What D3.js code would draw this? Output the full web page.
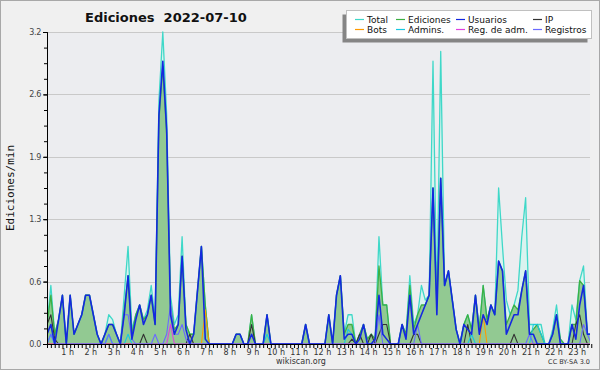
<!DOCTYPE html>
<html>
<head>
<meta charset="utf-8">
<script src="https://cdn.jsdelivr.net/npm/d3@7/dist/d3.min.js"></script>
<style>
    body { margin: 0; background: #fff; }
    svg { display: block; font-family: "DejaVu Sans", sans-serif; }
</style>
</head>
<body>
<svg id="chart"></svg>
<script>
// values per 10 minutes, 00:00 -> 23:30 (ediciones / min)
var total = [0.2, 0.6, 0.1, 0.25, 0.5, 0, 0.5, 0.1, 0.2, 0.3, 0.5, 0.5, 0.3, 0.1, 0, 0.1, 0.3, 0.25, 0.1, 0,
    0.5, 1.0, 0.15, 0.3, 0.4, 0.25, 0.35, 0.6, 0.25, 2.5, 3.2, 2.35, 0.5, 0.2, 0.3, 1.1, 0.2, 0.1, 0.1, 0.55,
    1.0, 0.4, 0, 0, 0, 0, 0, 0, 0, 0.1, 0.1, 0, 0, 0.3, 0, 0, 0, 0.3, 0, 0,
    0, 0, 0, 0, 0, 0, 0, 0.2, 0, 0, 0, 0, 0, 0.3, 0, 0.5, 0.7, 0.1, 0.3, 0.3,
    0, 0.1, 0.2, 0.05, 0.1, 0.05, 1.1, 0.4, 0.4, 0, 0, 0, 0.2, 0.1, 0.7, 0.2, 0.3, 0.6, 0.45, 0.5,
    2.9, 0.4, 3.0, 0.6, 0.75, 0.45, 0.15, 0, 0.2, 0.3, 0.15, 0.5, 0.15, 0.6, 0.25, 0.4, 0.3, 1.6, 1.0, 0.45,
    0.3, 0.4, 0.55, 1.1, 1.5, 0.2, 0.2, 0.2, 0.2, 0, 0, 0.15, 0.4, 0.05, 0, 0, 0.4, 0.25, 0.65, 0.8,
    0.1, 0.1];
var ediciones = [0.2, 0.5, 0.1, 0.25, 0.5, 0, 0.5, 0.1, 0.2, 0.3, 0.5, 0.5, 0.3, 0.1, 0, 0.1, 0.2, 0.2, 0.1, 0,
    0.35, 0.7, 0.1, 0.3, 0.4, 0.25, 0.3, 0.5, 0.2, 2.3, 2.85, 2.15, 0.4, 0.15, 0.2, 0.9, 0.2, 0.1, 0.1, 0.55,
    1.0, 0.4, 0, 0, 0, 0, 0, 0, 0, 0.1, 0.1, 0, 0, 0.3, 0, 0, 0, 0.3, 0, 0,
    0, 0, 0, 0, 0, 0, 0, 0.2, 0, 0, 0, 0, 0, 0.3, 0, 0.5, 0.7, 0.1, 0.2, 0.2,
    0, 0.1, 0.2, 0.05, 0.1, 0.05, 0.8, 0.4, 0.4, 0, 0, 0, 0.2, 0.1, 0.6, 0.15, 0.3, 0.4, 0.4, 0.5,
    1.6, 0.4, 1.7, 0.6, 0.75, 0.45, 0.15, 0, 0.2, 0.3, 0.15, 0.5, 0.15, 0.6, 0.25, 0.4, 0.3, 0.85, 0.75, 0.2,
    0.3, 0.4, 0.35, 0.55, 0.75, 0.1, 0.15, 0.2, 0.1, 0, 0, 0.1, 0.3, 0.05, 0, 0, 0.2, 0.2, 0.65, 0.6,
    0.1, 0.1];
var usuarios = [0.1, 0.2, 0, 0.25, 0.5, 0, 0.5, 0.1, 0.2, 0.3, 0.5, 0.5, 0.3, 0.1, 0, 0.1, 0.2, 0.2, 0.1, 0,
    0.3, 0.7, 0.05, 0.25, 0.4, 0.2, 0.3, 0.5, 0.2, 2.35, 2.9, 2.2, 0.3, 0.1, 0.2, 0.9, 0.15, 0, 0.1, 0.55,
    1.0, 0.05, 0, 0, 0, 0, 0, 0, 0, 0.1, 0.1, 0, 0, 0.1, 0, 0, 0, 0.3, 0, 0,
    0, 0, 0, 0, 0, 0, 0, 0.2, 0, 0, 0, 0, 0, 0.3, 0, 0.5, 0.7, 0.05, 0.1, 0.1,
    0, 0.05, 0.2, 0, 0, 0.05, 0.5, 0.1, 0.05, 0, 0, 0, 0.2, 0.05, 0.5, 0.1, 0.2, 0.3, 0.4, 0.5,
    1.6, 0.3, 1.7, 0.6, 0.75, 0.45, 0.15, 0, 0.2, 0.15, 0.1, 0.5, 0.1, 0.3, 0.2, 0.4, 0.3, 0.85, 0.75, 0.1,
    0.2, 0.3, 0.3, 0.55, 0.75, 0.1, 0.1, 0, 0, 0, 0, 0.1, 0.3, 0, 0, 0, 0.2, 0.05, 0.4, 0.6,
    0.1, 0.1];
var ip = [0.2, 0.3, 0.05, 0, 0, 0, 0, 0, 0, 0, 0, 0, 0, 0, 0, 0, 0, 0, 0, 0,
    0, 0, 0, 0, 0, 0.1, 0, 0, 0, 0, 0, 0, 0, 0, 0, 0, 0, 0.1, 0, 0,
    0, 0, 0, 0, 0, 0, 0, 0, 0, 0, 0, 0, 0, 0.2, 0, 0, 0, 0, 0, 0,
    0, 0, 0, 0, 0, 0, 0, 0, 0, 0, 0, 0, 0, 0, 0, 0, 0, 0, 0, 0.05,
    0, 0.1, 0, 0, 0.1, 0, 0.1, 0.2, 0.2, 0, 0, 0, 0, 0, 0, 0.1, 0.1, 0, 0, 0,
    0, 0, 0, 0, 0, 0, 0, 0, 0, 0.2, 0, 0, 0, 0, 0, 0, 0, 0, 0, 0,
    0, 0.1, 0, 0, 0, 0, 0, 0, 0, 0, 0, 0, 0, 0, 0, 0, 0, 0.2, 0.3, 0.1,
    0, 0];
var bots = [0, 0, 0, 0, 0, 0, 0, 0, 0, 0, 0, 0, 0, 0, 0, 0, 0, 0, 0, 0,
    0, 0, 0, 0, 0, 0, 0, 0, 0, 0, 0, 0, 0, 0, 0, 0, 0, 0, 0, 0,
    0, 0.35, 0, 0, 0, 0, 0, 0, 0, 0, 0, 0, 0, 0, 0, 0, 0, 0, 0, 0,
    0, 0, 0, 0, 0, 0, 0, 0, 0, 0, 0, 0, 0, 0, 0, 0, 0, 0, 0, 0,
    0, 0, 0, 0, 0, 0, 0, 0, 0, 0, 0, 0, 0, 0, 0, 0, 0, 0, 0, 0,
    0, 0, 0, 0, 0, 0, 0, 0, 0, 0, 0, 0, 0, 0.3, 0, 0, 0, 0, 0, 0,
    0, 0, 0, 0, 0, 0, 0, 0, 0, 0, 0, 0, 0, 0, 0, 0, 0, 0, 0, 0,
    0, 0];
var admins = [0, 0.1, 0, 0, 0, 0, 0, 0, 0, 0, 0, 0, 0, 0, 0, 0, 0.1, 0, 0, 0,
    0, 0.1, 0, 0, 0, 0, 0, 0, 0, 0, 0, 0, 0, 0, 0, 0, 0, 0, 0, 0,
    0, 0, 0, 0, 0, 0, 0, 0, 0, 0, 0, 0, 0, 0, 0, 0, 0, 0.1, 0, 0,
    0, 0, 0, 0, 0, 0, 0, 0, 0, 0, 0, 0, 0, 0, 0, 0, 0, 0, 0.15, 0.1,
    0, 0, 0, 0, 0, 0, 0, 0, 0, 0, 0, 0, 0, 0, 0, 0, 0, 0, 0, 0,
    0, 0, 0, 0, 0, 0, 0, 0, 0, 0, 0.1, 0, 0, 0, 0, 0, 0, 0, 0, 0,
    0, 0, 0, 0, 0, 0, 0.2, 0.2, 0.1, 0, 0, 0, 0, 0, 0, 0, 0, 0, 0, 0,
    0, 0];
var regAdm = [0, 0, 0, 0, 0, 0, 0, 0, 0, 0, 0, 0, 0, 0, 0, 0, 0, 0, 0, 0,
    0, 0, 0, 0, 0, 0, 0, 0, 0, 0, 0, 0, 0.2, 0, 0, 0, 0, 0, 0, 0,
    0, 0, 0, 0, 0, 0, 0, 0, 0, 0, 0, 0, 0, 0, 0, 0, 0, 0, 0, 0,
    0, 0, 0, 0, 0, 0, 0, 0, 0, 0, 0, 0, 0, 0, 0, 0, 0, 0, 0, 0,
    0, 0, 0, 0, 0, 0, 0, 0, 0, 0, 0, 0, 0, 0, 0, 0, 0, 0, 0, 0,
    0, 0, 0, 0, 0, 0, 0, 0, 0, 0, 0, 0, 0, 0, 0, 0, 0, 0, 0, 0,
    0, 0, 0, 0, 0, 0, 0, 0, 0, 0, 0, 0, 0, 0, 0, 0, 0, 0, 0, 0,
    0, 0];
var registros = [0, 0.1, 0, 0, 0, 0, 0, 0, 0, 0, 0, 0, 0, 0, 0, 0, 0.1, 0, 0, 0,
    0.3, 0.3, 0.05, 0, 0, 0, 0, 0, 0.1, 0, 0, 0.1, 0.4, 0.1, 0.1, 0.2, 0.05, 0, 0, 0,
    0, 0, 0, 0, 0, 0, 0, 0, 0, 0, 0, 0, 0, 0, 0, 0, 0, 0, 0, 0,
    0, 0, 0, 0, 0, 0, 0, 0, 0, 0, 0, 0, 0, 0, 0, 0, 0, 0, 0, 0,
    0, 0, 0, 0, 0, 0, 0.3, 0, 0, 0, 0, 0, 0, 0, 0, 0, 0.2, 0, 0, 0,
    0, 0, 0, 0, 0, 0, 0, 0, 0, 0, 0, 0, 0, 0, 0, 0, 0, 0, 0, 0,
    0, 0, 0, 0, 0, 0.1, 0, 0, 0, 0, 0, 0, 0, 0, 0, 0, 0, 0, 0, 0.2,
    0.1, 0];
var hourTicks = [1, 2, 3, 4, 5, 6, 7, 8, 9, 10, 11, 12, 13, 14, 15, 16, 17, 18, 19, 20, 21, 22, 23];
var yTicks = [0, 0.64, 1.28, 1.92, 2.56, 3.2];

var svgWidth = 600;
var svgHeight = 370;
var plotLeft = 47, plotRight = 590, plotTop = 32, plotBottom = 344;

var svg = d3.select('svg#chart')
    .attr("width", svgWidth)
    .attr("height", svgHeight);

// background + frame
svg.append("rect").attr("x", 0.5).attr("y", 0.5)
    .attr("width", svgWidth - 1).attr("height", svgHeight - 1)
    .attr("fill", "#f0f0f0").attr("stroke", "#a8a8a8");
svg.append("rect").attr("x", plotLeft).attr("y", plotTop)
    .attr("width", plotRight - plotLeft).attr("height", plotBottom - plotTop)
    .attr("fill", "#ecedf0");

var lastHour = (total.length - 1) / 6;
var x = d3.scaleLinear().domain([0, lastHour]).range([plotLeft, plotLeft + (total.length - 1) * 3.86]);
var y = d3.scaleLinear().domain([0, 3.2]).range([plotBottom, plotTop]);

svg.append("clipPath").attr("id", "plot")
    .append("rect").attr("x", plotLeft).attr("y", 0)
    .attr("width", plotRight - plotLeft).attr("height", plotBottom + 1);

// gridlines
svg.append("g").selectAll("line").data(yTicks.slice(1)).enter()
    .append("line")
    .attr("x1", plotLeft).attr("x2", plotRight)
    .attr("y1", function (d) { return Math.round(y(d)) + 0.5; })
    .attr("y2", function (d) { return Math.round(y(d)) + 0.5; })
    .attr("stroke", "#c9c9c9");

var plot = svg.append("g").attr("clip-path", "url(#plot)");

function area(values) {
    return d3.area()
        .x(function (d, i) { return x(i / 6); })
        .y0(y(0))
        .y1(function (d) { return y(d); })(values);
}
function line(values) {
    return d3.line()
        .x(function (d, i) { return x(i / 6); })
        .y(function (d) { return y(d); })(values);
}

plot.append("path").attr("d", area(total)).attr("fill", "#daf3ef");
plot.append("path").attr("d", area(ediciones)).attr("fill", "#92c992");

var series = [
    { name: "Total", values: total, color: "#3fd8c8", width: 1.3 },
    { name: "Ediciones", values: ediciones, color: "#3cb043", width: 1.3 },
    { name: "Usuarios", values: usuarios, color: "#1428e0", width: 1.6 },
    { name: "IP", values: ip, color: "#333333", width: 1.1 },
    { name: "Bots", values: bots, color: "#ff9a00", width: 1.1 },
    { name: "Admins.", values: admins, color: "#18c8e0", width: 1.1 },
    { name: "Reg. de adm.", values: regAdm, color: "#e040e0", width: 1.1 },
    { name: "Registros", values: registros, color: "#6a6aff", width: 1.1 }
];
var drawOrder = [0, 1, 3, 4, 5, 6, 7, 2];
drawOrder.forEach(function (k) {
    var s = series[k];
    plot.append("path")
        .attr("d", line(s.values))
        .attr("fill", "none")
        .attr("stroke", s.color)
        .attr("stroke-width", s.width)
        .attr("stroke-linejoin", "round");
});

// y axis
var yAxis = svg.append("g").attr("transform", "translate(" + plotLeft + ",0)");
yAxis.call(d3.axisLeft(y).tickValues(d3.range(0, 3.21, 0.16)).tickSize(3).tickFormat(""));
yAxis.selectAll(".tick line").attr("stroke", "#000");
var yLab = svg.append("g").attr("transform", "translate(" + plotLeft + ",0)");
yLab.call(d3.axisLeft(y).tickValues(yTicks).tickSize(4).tickPadding(2).tickFormat(d3.format(".1f")));
yLab.select(".domain").attr("stroke", "#000");
yLab.selectAll("text").attr("font-size", 8).attr("fill", "#444")
    .attr("font-family", "DejaVu Sans").attr("letter-spacing", -0.3);

// x axis
var xAxis = svg.append("g").attr("transform", "translate(0," + plotBottom + ")");
xAxis.call(d3.axisBottom(x).tickValues(d3.range(0, lastHour + 0.01, 1 / 6)).tickSize(4).tickSizeOuter(0).tickFormat(""));
xAxis.select(".domain").attr("d", "M" + plotLeft + ",0.5H" + plotRight).attr("stroke", "#000").attr("stroke-width", 1.2);
var xLab = svg.append("g").attr("transform", "translate(0," + plotBottom + ")");
xLab.call(d3.axisBottom(x).tickValues(hourTicks).tickSize(0).tickPadding(5)
    .tickFormat(function (d) { return d + " h"; }));
xLab.select(".domain").remove();
xLab.selectAll("text").attr("font-size", 8).attr("fill", "#333")
    .attr("font-family", "DejaVu Sans").attr("dx", -3);

// title and labels
svg.append("text").attr("x", 85).attr("y", 22)
    .attr("font-size", 13).attr("font-weight", "bold")
    .attr("fill", "#111")
    .attr("xml:space", "preserve")
    .text("Ediciones  2022-07-10");
svg.append("text")
    .attr("transform", "translate(14," + (plotTop + plotBottom) / 2 + ") rotate(-90)")
    .attr("text-anchor", "middle")
    .attr("font-family", "DejaVu Sans Mono")
    .attr("font-size", 11).attr("fill", "#111")
    .text("Ediciones/min");
svg.append("text").attr("x", 301).attr("y", 364)
    .attr("text-anchor", "middle").attr("font-size", 8).attr("fill", "#333")
    .text("wikiscan.org");
svg.append("text").attr("x", 590).attr("y", 364)
    .attr("text-anchor", "end").attr("font-size", 6.5).attr("fill", "#333")
    .text("CC BY-SA 3.0");

// legend
var legend = svg.append("g").attr("class", "legend");
legend.append("rect").attr("x", 342.5).attr("y", 14.5).attr("width", 245).attr("height", 28)
    .attr("fill", "#858585");
legend.append("rect").attr("x", 346.5).attr("y", 10.5).attr("width", 245).attr("height", 28)
    .attr("fill", "#fff").attr("stroke", "#c0c0c0");
var colText = [367, 408, 468, 545];
var item = legend.selectAll("g.item").data(series).enter()
    .append("g").attr("class", "item")
    .attr("transform", function (d, i) {
        return "translate(" + colText[i % 4] + "," + (19.5 + Math.floor(i / 4) * 10) + ")";
    });
item.append("line").attr("x1", -12).attr("x2", -3).attr("y1", 0).attr("y2", 0)
    .attr("stroke", function (d) { return d.color; }).attr("stroke-width", 1.2);
item.append("text").attr("x", 0).attr("y", 3.3)
    .attr("font-size", 9).attr("fill", "#111")
    .text(function (d) { return d.name; });
</script>
</body>
</html>
